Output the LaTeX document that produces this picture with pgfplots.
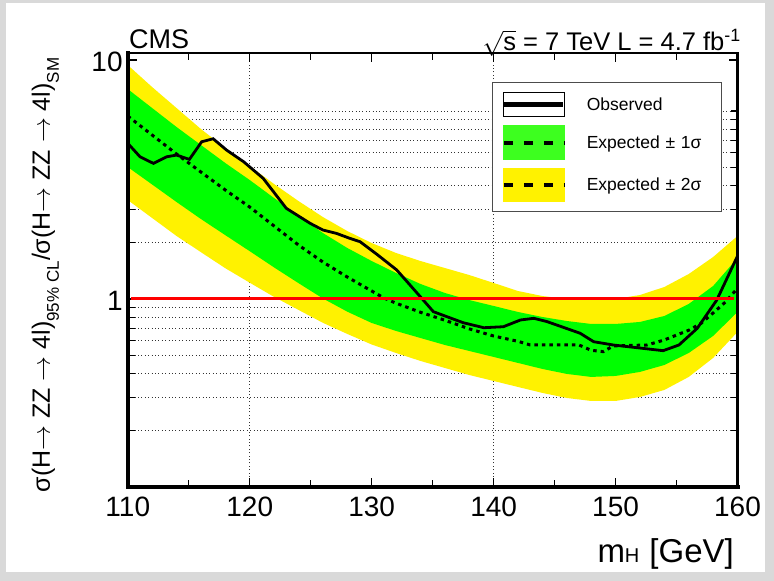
\documentclass[border=0pt]{standalone}
\usepackage{pgfplots}
\pgfplotsset{compat=1.18}
\usepackage{pgfplotstable}
\usepgfplotslibrary{fillbetween}
\usepackage{fontspec}
\setmainfont{Liberation Sans}
\definecolor{lgreen}{rgb}{0.24,1,0.12}

\pgfplotstableread{
m yu gu gl yl
110 9.530 7.563 3.567 2.595
112 7.709 6.298 3.014 2.182
114 6.298 5.245 2.546 1.835
116 5.144 4.410 2.161 1.570
118 4.284 3.707 1.850 1.345
120 3.601 3.147 1.585 1.170
122 3.028 2.646 1.355 1.020
124 2.570 2.225 1.165 0.900
126 2.203 1.889 1.005 0.795
128 1.925 1.635 0.885 0.714
130 1.715 1.442 0.7937 0.6450
132 1.558 1.285 0.7348 0.5943
134 1.442 1.156 0.6867 0.5504
136 1.348 1.060 0.6420 0.5144
138 1.260 0.990 0.6060 0.4808
140 1.167 0.935 0.5720 0.4537
142 1.080 0.8823 0.5399 0.4283
144 1.029 0.8408 0.5095 0.4044
146 1.000 0.8090 0.4857 0.3853
148 0.990 0.7861 0.4718 0.3743
150 1.000 0.7861 0.4763 0.3743
152 1.039 0.8014 0.4951 0.3890
154 1.1225 0.8489 0.5294 0.4162
156 1.272 0.9530 0.5943 0.4718
158 1.4985 1.1335 0.7003 0.5665
160 1.835 1.484 0.8823 0.7277
}\bands

\pgfplotstableread{
m exp
110 5.830
112 4.855
114 4.043
116 3.399
118 2.858
120 2.426
122 2.020
124 1.682
126 1.428
128 1.236
130 1.080
131 1.010
132 0.960
134 0.880
136 0.815
138 0.750
140 0.700
142 0.665
143 0.642
147 0.642
148 0.610
149 0.602
149.8 0.636
152.6 0.642
154 0.674
156 0.740
157 0.790
158 0.874
159 0.970
160 1.109
}\expected

\pgfplotstableread{
m obs
110.0 4.483
111.0 3.939
112.1 3.696
113.2 3.939
114.0 4.004
115.05 3.841
116.06 4.552
117.0 4.685
118.1 4.201
119.5 3.754
121.1 3.199
123.0 2.396
124.95 2.074
126.0 1.944
127.1 1.883
128.2 1.795
129.05 1.737
130.5 1.528
132.06 1.322
134.1 1.007
135.06 0.8849
137.5 0.7959
139.2 0.7582
140.8 0.7656
142.2 0.8168
143.3 0.8302
144.4 0.8035
147.1 0.7186
148.2 0.6627
149.8 0.6420
153.9 0.6077
155.2 0.6420
156.7 0.7539
158.3 0.990
160 1.513
}\observed

\begin{document}
\begin{tikzpicture}[x=1pt,y=1pt]
\begin{axis}[
  at={(127.8pt,93.8pt)}, anchor=south west,
  scale only axis, width=609.7pt, height=434.4pt,
  clip=false,
  xmin=110, xmax=160, ymode=log, ymin=0.163, ymax=10.73,
  xtick={110,120,130,140,150,160},
  xticklabels={110,120,130,140,150,160},
  minor x tick num=1,
  ytick={1,10}, yticklabels={1,10},
  minor ytick={0.2819,0.3879,0.4864,0.5799,0.6691,0.7552,0.8390,0.9200,1.7245,2.373,2.976,3.547,4.094,4.622,5.133,5.631,6.117},
  yminorgrids=true, ymajorgrids=false, xmajorgrids=false,
  minor grid style={black!80, line width=1pt, dash pattern=on 1pt off 2.4pt},
  major grid style={black!80, line width=1pt, dash pattern=on 1pt off 2.4pt},
  extra x ticks={120,140}, extra x tick labels={},
  extra x tick style={grid=major},
  tick align=inside, major tick length=9pt, minor tick length=7pt,
  every tick/.style={black, line width=1.2pt},
  axis line style={line width=2.4pt},
  /pgf/number format/assume math mode=true,
  xticklabel style={font=\fontsize{28}{28}\selectfont, inner sep=0pt, anchor=north, yshift=-9.5pt},
  yticklabel style={font=\fontsize{28}{28}\selectfont, inner sep=0pt, anchor=east, xshift=-5pt, yshift=-2pt},
  legend style={at={(0.5968,0.9335)}, anchor=north west, draw=black!70, line width=1.2pt, fill=white,
    inner xsep=9pt, inner ysep=10pt, row sep=8pt,
    font=\fontsize{17.5}{20}\selectfont,
    nodes={inner sep=0pt, text width=126pt, align=left},
    /tikz/every odd column/.append style={column sep=20pt}},
  legend cell align=left,
]
\begin{pgfonlayer}{axis background}
\fill[black!15] ([xshift=-127.8pt,yshift=-93.8pt]rel axis cs:0,0) rectangle ++(774pt,581pt);
\fill[white] ([xshift=-121.8pt,yshift=-84.8pt]rel axis cs:0,0) rectangle ++(759pt,569pt);
\end{pgfonlayer}
\addplot[draw=none, name path=yu, forget plot] table[x=m,y=yu]{\bands};
\addplot[draw=none, name path=yl, forget plot] table[x=m,y=yl]{\bands};
\addplot[yellow, forget plot] fill between[of=yu and yl];
\addplot[draw=none, name path=gu, forget plot] table[x=m,y=gu]{\bands};
\addplot[draw=none, name path=gl, forget plot] table[x=m,y=gl]{\bands};
\addplot[green, forget plot] fill between[of=gu and gl];
\addplot[black, line width=3pt, dash pattern=on 3.5pt off 4pt, forget plot] table[x=m,y=exp]{\expected};
\addplot[black, line width=2.8pt, forget plot] table[x=m,y=obs]{\observed};
\addplot[red, line width=3pt, forget plot] coordinates {(110.3,1) (159.7,1)};
\draw[line width=2.4pt, line cap=rect] (rel axis cs:0,1) -- (rel axis cs:1,1) -- (rel axis cs:1,0);
\draw[line width=4.2pt, line cap=rect] (rel axis cs:0,1) -- (rel axis cs:0,0) -- (rel axis cs:1,0);
\addlegendimage{legend image code/.code={\path (0pt,-12pt) rectangle (61pt,12pt); \draw[black, line width=5pt] (0pt,0pt) -- (59pt,0pt);}}
\addlegendentry{Observed}
\addlegendimage{legend image code/.code={\fill[lgreen] (0pt,-16.5pt) rectangle (61pt,16.5pt); \draw[black, line width=4pt, dash pattern=on 9.5pt off 10.5pt] (0pt,0pt) -- (61pt,0pt);}}
\addlegendentry{Expected ± 1σ}
\addlegendimage{legend image code/.code={\fill[yellow] (0pt,-16.5pt) rectangle (61pt,16.5pt); \draw[black, line width=4pt, dash pattern=on 9.5pt off 10.5pt] (0pt,0pt) -- (61pt,0pt);}}
\addlegendentry{Expected ± 2σ}
\end{axis}
\node[anchor=base west, inner sep=0pt, font=\fontsize{27}{27}\selectfont] at (129,532) {CMS};
\node[anchor=base east, inner sep=0pt, font=\fontsize{25.5}{25.5}\selectfont] at (741,530) {$\sqrt{\mbox{s}}$ = 7 TeV L = 4.7 fb\textsuperscript{-1}};
\node[rotate=90, anchor=base, inner sep=0pt, font=\fontsize{25}{25}\selectfont] at (50,306) {σ(H$\rightarrow$ ZZ $\rightarrow$ 4l)\raisebox{-0.35em}{\fontsize{17}{17}\selectfont 95\% CL}/σ(H$\rightarrow$ ZZ $\rightarrow$ 4l)\raisebox{-0.35em}{\fontsize{17}{17}\selectfont SM}};
\node[anchor=base east, inner sep=0pt, font=\fontsize{33}{33}\selectfont] at (734,18) {m{\fontsize{20}{20}\selectfont H}\hspace{10pt}[GeV]};
\end{tikzpicture}
\end{document}
